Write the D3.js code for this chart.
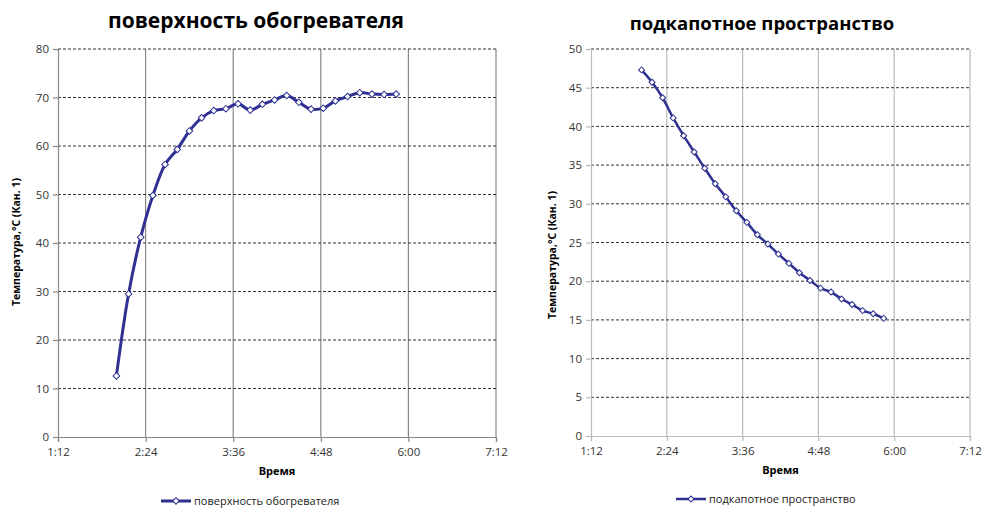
<!DOCTYPE html>
<html>
<head>
<meta charset="utf-8">
<script src="https://cdn.jsdelivr.net/npm/d3@7"></script>
<style>
	body { margin: 0; background: #fff; }
	svg { display: block; font-family: 'Open Sans', 'DejaVu Sans', sans-serif; }
</style>
</head>
<body>
<svg id="chart" width="982" height="509"></svg>
<script>
// time in minutes (axis shows h:mm)
var times = [120, 130, 140, 150, 160, 170, 180, 190, 200, 210, 220, 230, 240, 250, 260, 270, 280, 290, 300, 310, 320, 330, 340, 350];
var heaterTemps = [12.6, 29.5, 41.2, 49.8, 56.2, 59.3, 63.1, 65.8, 67.3, 67.7, 68.7, 67.4, 68.6, 69.5, 70.4, 69.0, 67.6, 67.8, 69.3, 70.2, 71.0, 70.7, 70.6, 70.7];
var hoodTemps = [47.3, 45.7, 43.7, 41.1, 38.8, 36.7, 34.6, 32.6, 30.9, 29.1, 27.6, 26.0, 24.8, 23.5, 22.3, 21.1, 20.1, 19.1, 18.6, 17.7, 17.0, 16.2, 15.8, 15.2];
var timeTicks = [72, 144, 216, 288, 360, 432];
var heaterTicks = [0, 10, 20, 30, 40, 50, 60, 70, 80];
var hoodTicks = [0, 5, 10, 15, 20, 25, 30, 35, 40, 45, 50];
var titles = ['поверхность обогревателя', 'подкапотное пространство'];
var xTitle = 'Время';
var yTitle = 'Температура,°С (Кан. 1)';

(function(d3) {
	'use strict';

	var svg = d3.select('#chart');
	var blue = '#2e3192';

	var fmtTime = function(m) {
		var h = Math.floor(m / 60), mm = m % 60;
		return h + ':' + (mm < 10 ? '0' : '') + mm;
	};

	var drawChart = function(o) {
		var g = svg.append('g');
		var x = d3.scaleLinear().domain([72, 432]).range([o.left, o.right]);
		var y = d3.scaleLinear().domain([0, o.yMax]).range([o.bottom, o.top]);

		/** vertical grid */
		g.append('g').selectAll('line').data(timeTicks.slice(1)).enter().append('line')
			.attr('x1', x).attr('x2', x).attr('y1', y(0)).attr('y2', y(o.yMax))
			.attr('stroke', o.vGrid).attr('stroke-width', 1.2);

		/** horizontal dashed grid */
		g.append('g').selectAll('line').data(o.yTicks.slice(1)).enter().append('line')
			.attr('x1', x(72)).attr('x2', x(432)).attr('y1', y).attr('y2', y)
			.attr('stroke', '#333').attr('stroke-width', 1).attr('stroke-dasharray', '3,2');

		/** axes */
		var yAxis = d3.axisLeft(y).tickValues(o.yTicks).tickSize(5).tickPadding(4);
		var xAxis = d3.axisBottom(x).tickValues(timeTicks).tickSize(5).tickPadding(6).tickFormat(fmtTime);
		[g.append('g').attr('transform', 'translate(' + o.left + ',0)').call(yAxis),
			g.append('g').attr('transform', 'translate(0,' + o.bottom + ')').call(xAxis)].forEach(function(ax) {
			ax.select('.domain').attr('stroke', o.axis).attr('stroke-width', 1.2);
			ax.selectAll('.tick line').attr('stroke', o.axis).attr('stroke-width', 1.2);
			ax.selectAll('text').attr('fill', '#333').style('font-size', '11.5px').style('font-family', 'Open Sans, sans-serif');
		});

		/** titles */
		g.append('text').attr('x', o.titleX).attr('y', o.titleY).attr('text-anchor', 'middle')
			.style('font-size', o.titleSize).style('font-weight', 'bold').text(o.title);
		g.append('text').attr('x', (o.left + o.right) / 2).attr('y', o.bottom + 38).attr('text-anchor', 'middle')
			.style('font-size', '11px').style('font-weight', 'bold').text(xTitle);
		g.append('text').attr('transform', 'translate(' + o.yTitleX + ',' + o.yTitleY + ') rotate(-90)')
			.attr('text-anchor', 'middle').style('font-size', '10.5px').style('font-weight', 'bold').text(yTitle);

		/** series */
		var pts = times.map(function(t, i) { return [t, o.values[i]]; });
		var line = d3.line().x(function(d) { return x(d[0]); }).y(function(d) { return y(d[1]); })
			.curve(d3.curveCatmullRom.alpha(0.5));
		g.append('path').datum(pts).attr('d', line).attr('fill', 'none')
			.attr('stroke', blue).attr('stroke-width', o.lineWidth);
		var diamond = d3.symbol().type(d3.symbolSquare).size(o.marker);
		g.append('g').selectAll('path').data(pts).enter().append('path')
			.attr('d', diamond)
			.attr('transform', function(d) { return 'translate(' + x(d[0]) + ',' + y(d[1]) + ') rotate(45)'; })
			.attr('fill', '#fff').attr('stroke', blue).attr('stroke-width', 1);

		/** legend */
		var lg = g.append('g').attr('transform', 'translate(' + o.legendX + ',' + o.legendY + ')');
		lg.append('line').attr('x1', 0).attr('x2', 30).attr('stroke', blue).attr('stroke-width', o.lineWidth);
		lg.append('path').attr('d', diamond).attr('transform', 'translate(15,0) rotate(45)')
			.attr('fill', '#fff').attr('stroke', blue);
		lg.append('text').attr('x', 33).attr('dy', '0.35em').style('font-size', '11px').attr('fill', '#222').text(o.title);
	};

	drawChart({
		left: 58, right: 496, top: 49, bottom: 437, yMax: 80, yTicks: heaterTicks, values: heaterTemps,
		title: titles[0], titleX: 256, titleY: 28, titleSize: '21px',
		yTitleX: 20, yTitleY: 242, vGrid: '#888', axis: '#888', lineWidth: 3, marker: 22,
		legendX: 161, legendY: 501
	});
	drawChart({
		left: 591, right: 970, top: 49, bottom: 436, yMax: 50, yTicks: hoodTicks, values: hoodTemps,
		title: titles[1], titleX: 762, titleY: 30, titleSize: '18.5px',
		yTitleX: 556, yTitleY: 255, vGrid: '#bbb', axis: '#bbb', lineWidth: 2.5, marker: 18,
		legendX: 676, legendY: 499
	});
})(d3);
</script>
</body>
</html>
